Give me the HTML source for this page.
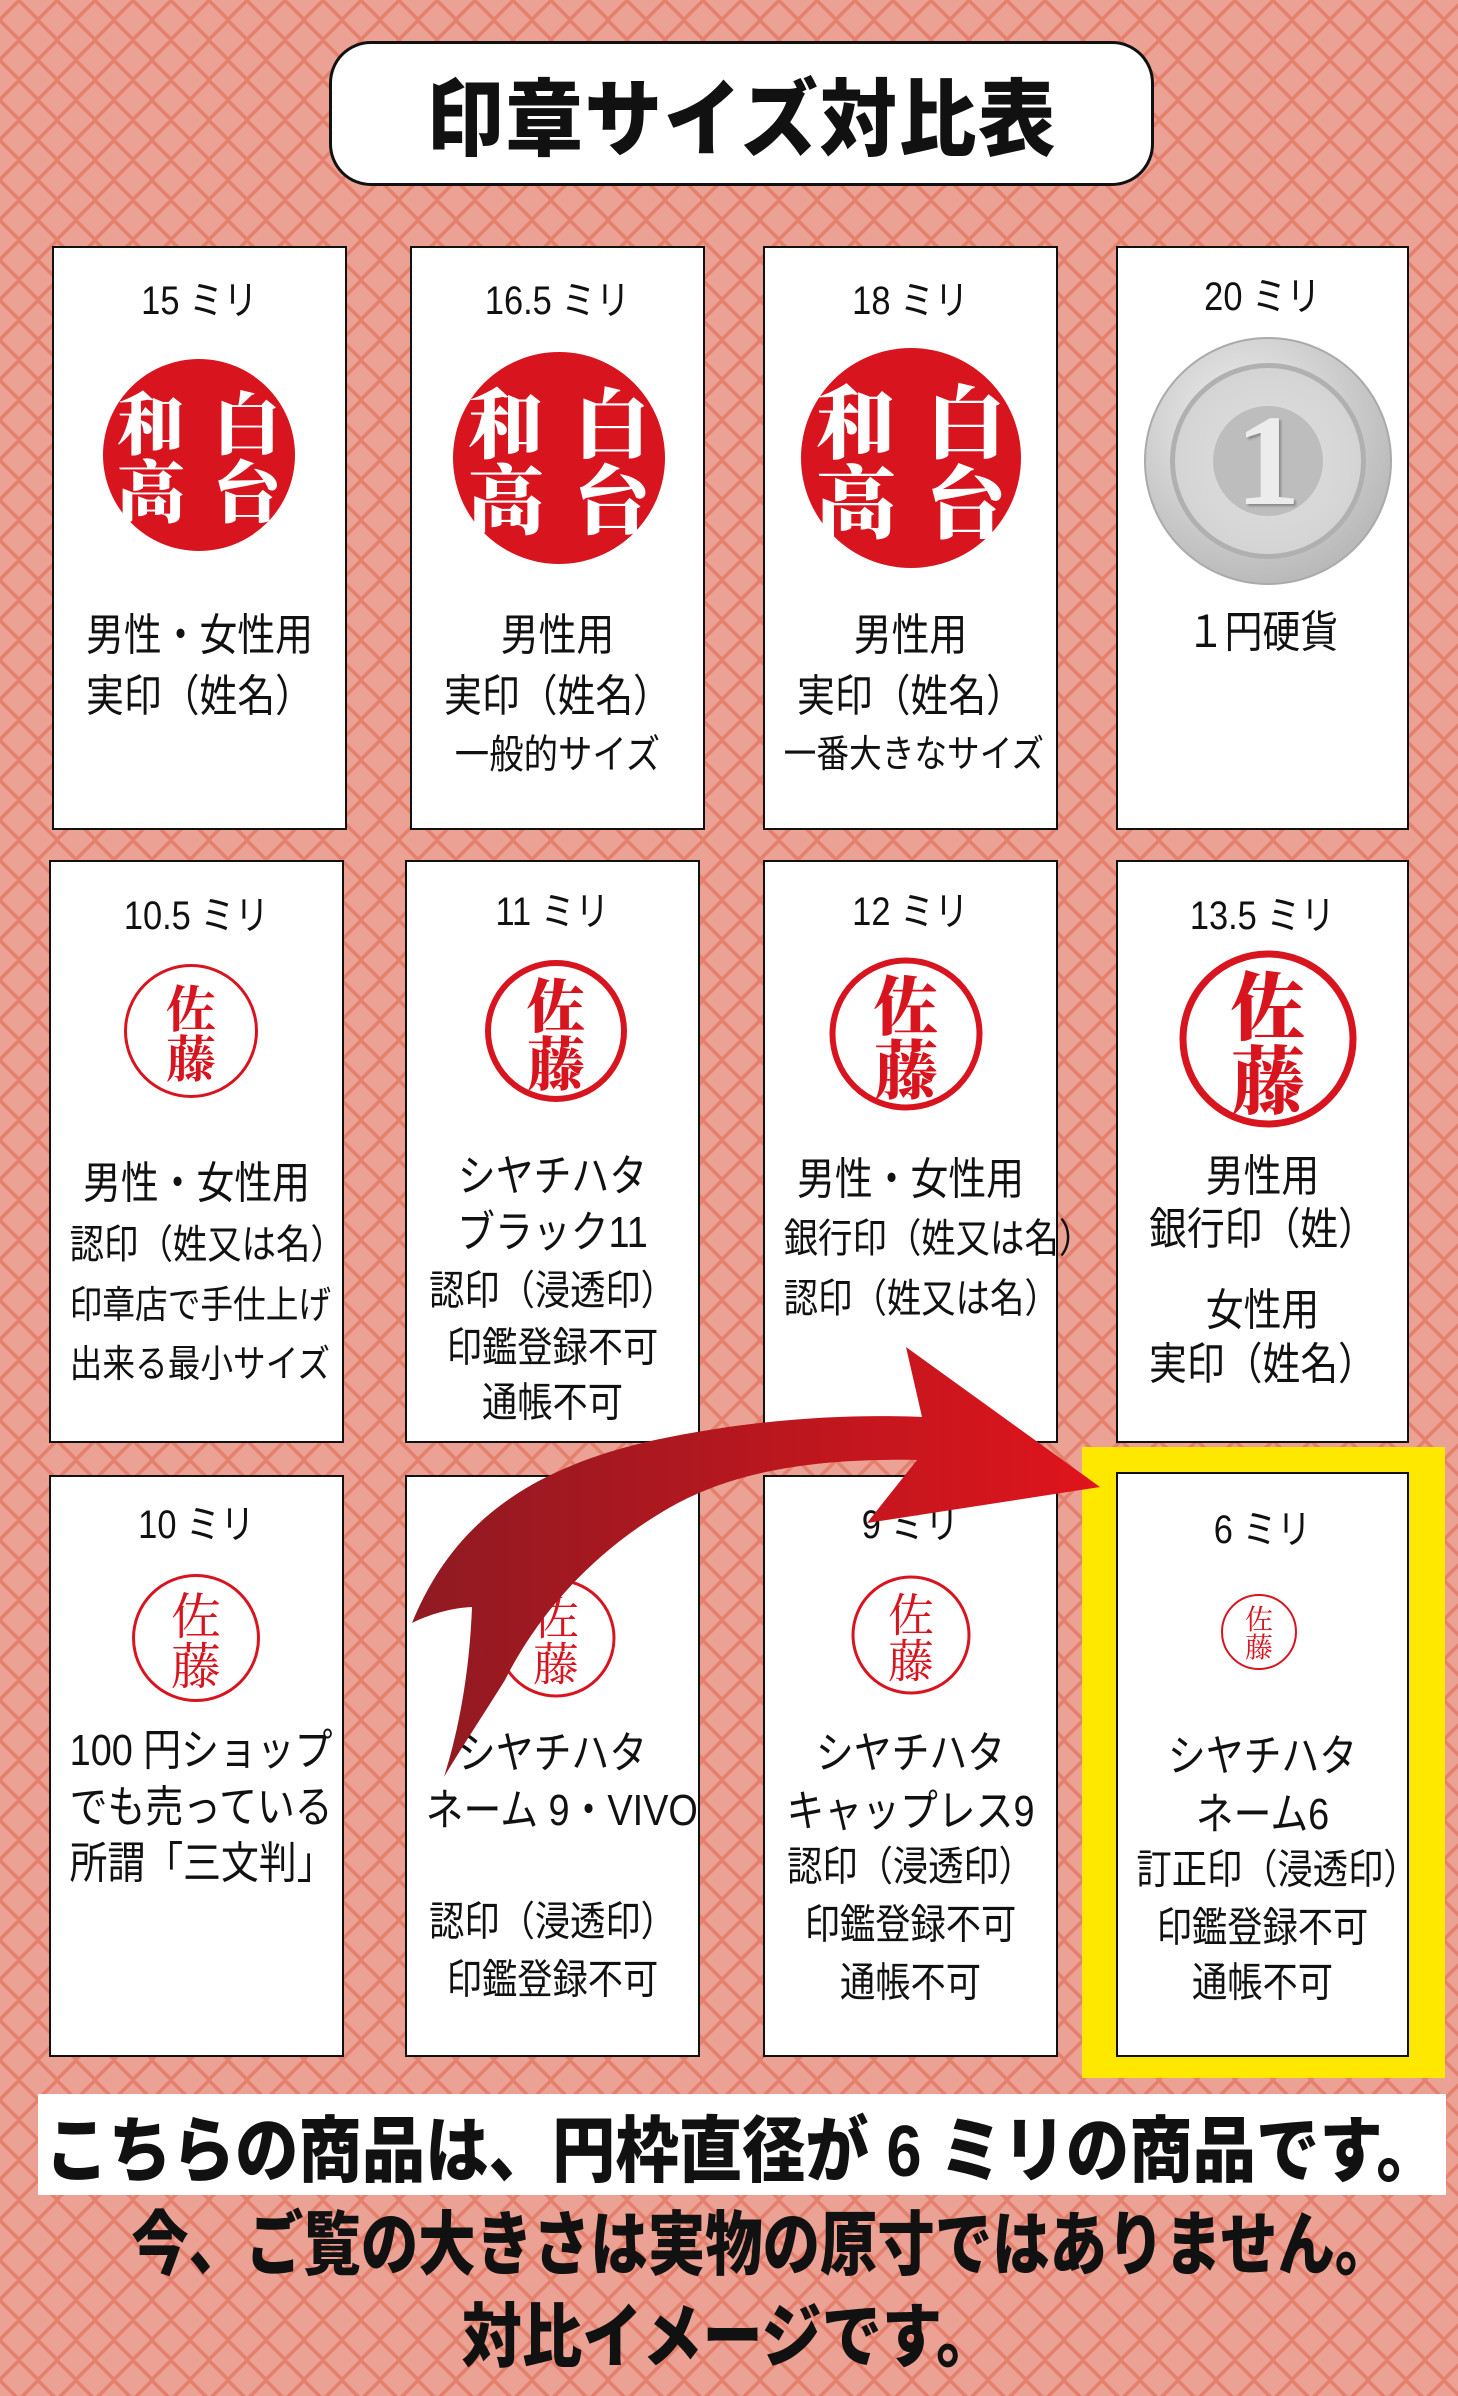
<!DOCTYPE html>
<html><head><meta charset="utf-8">
<style>
*{margin:0;padding:0;box-sizing:border-box}
body{width:1458px;height:2396px;position:relative;overflow:hidden;font-family:"Liberation Sans","Noto Sans CJK JP",sans-serif;color:#111}
.bg{position:absolute;left:0;top:0}
.card{position:absolute;background:#fff;border:2px solid #111}
.t{position:absolute;text-align:center;white-space:nowrap;line-height:1;transform:translateY(-50%) scaleX(.86);transform-origin:center;font-size:44px}
.lab{font-size:40px}
.st{position:absolute;border-radius:50%;transform:translate(-50%,-50%);display:flex;align-items:center;justify-content:center}
.red{background:#d8141f;color:#fff;font-family:"Noto Serif CJK SC",serif;font-weight:900;display:grid;grid-template-columns:1fr 1fr;line-height:1;text-align:center;align-content:center}
.sato{border:3px solid #d8141f;color:#d8141f;font-family:"Noto Serif CJK SC",serif;flex-direction:column;line-height:1}
.big{position:absolute;left:0;width:1458px;text-align:center;font-weight:900;line-height:1;white-space:nowrap}
</style></head><body>
<svg class="bg" width="1458" height="2396">
<defs><pattern id="p" width="38" height="40" patternUnits="userSpaceOnUse">
<rect width="38" height="40" fill="#e4806d"/>
<polygon points="19,3 36,20 19,37 2,20" fill="#eba294"/>
<polygon points="0,-17 17,0 0,17 -17,0" fill="#eba294"/>
<polygon points="38,-17 55,0 38,17 21,0" fill="#eba294"/>
<polygon points="0,23 17,40 0,57 -17,40" fill="#eba294"/>
<polygon points="38,23 55,40 38,57 21,40" fill="#eba294"/>
</pattern></defs>
<rect width="1458" height="2396" fill="url(#p)"/>
</svg>

<div style="position:absolute;left:329px;top:41px;width:825px;height:145px;background:#fff;border:3px solid #111;border-radius:42px;display:flex;align-items:center;justify-content:center;font-size:84px;font-weight:900;letter-spacing:2px"><span style="display:inline-block;transform:scaleX(.92)">印章サイズ対比表</span></div>

<div style="position:absolute;left:1082px;top:1447px;width:363px;height:631px;background:#ffe800"></div>

<div class="card" style="left:52px;top:246px;width:295px;height:584px"></div>
<div class="card" style="left:410px;top:246px;width:295px;height:584px"></div>
<div class="card" style="left:763px;top:246px;width:295px;height:584px"></div>
<div class="card" style="left:1116px;top:246px;width:293px;height:584px"></div>
<div class="card" style="left:49px;top:860px;width:295px;height:583px"></div>
<div class="card" style="left:405px;top:860px;width:295px;height:583px"></div>
<div class="card" style="left:763px;top:860px;width:295px;height:583px"></div>
<div class="card" style="left:1116px;top:860px;width:293px;height:583px"></div>
<div class="card" style="left:49px;top:1475px;width:295px;height:582px"></div>
<div class="card" style="left:405px;top:1475px;width:295px;height:582px"></div>
<div class="card" style="left:763px;top:1475px;width:295px;height:582px"></div>
<div class="card" style="left:1116px;top:1472px;width:293px;height:585px"></div>

<div class="t lab" style="left:52px;width:295px;top:301px">15 ミリ</div>
<div class="t lab" style="left:410px;width:295px;top:301px">16.5 ミリ</div>
<div class="t lab" style="left:763px;width:295px;top:301px">18 ミリ</div>
<div class="t lab" style="left:1116px;width:293px;top:297px">20 ミリ</div>

<div class="st red" style="left:199px;top:455px;width:192px;height:192px;font-size:68px"><span>和</span><span>白</span><span>高</span><span>台</span></div>
<div class="st red" style="left:559px;top:458px;width:212px;height:212px;font-size:76px"><span>和</span><span>白</span><span>高</span><span>台</span></div>
<div class="st red" style="left:911px;top:458px;width:220px;height:220px;font-size:80px"><span>和</span><span>白</span><span>高</span><span>台</span></div>
<div class="st" style="left:1268px;top:461px;width:248px;height:248px;background:radial-gradient(circle at 40% 35%,#f2f2f2,#c4c4c4 60%,#a9a9a9);border:2px solid #aaa">
 <div style="width:196px;height:196px;border-radius:50%;border:5px solid #b0b0b0;background:radial-gradient(circle,#e0e0e0,#cfcfcf);display:flex;align-items:center;justify-content:center">
  <div style="width:110px;height:110px;border-radius:50%;background:#bdbdbd;display:flex;align-items:center;justify-content:center;font-size:130px;font-weight:bold;color:#ececec;text-shadow:2px 2px 2px #888;font-family:'Liberation Serif',serif">1</div></div></div>

<div class="t" style="left:52px;width:295px;top:636px">男性・女性用</div>
<div class="t" style="left:52px;width:295px;top:697px">実印（姓名）</div>
<div class="t" style="left:410px;width:295px;top:636px">男性用</div>
<div class="t" style="left:410px;width:295px;top:697px">実印（姓名）</div>
<div class="t" style="left:410px;width:295px;top:755px;font-size:40px">一般的サイズ</div>
<div class="t" style="left:763px;width:295px;top:636px">男性用</div>
<div class="t" style="left:763px;width:295px;top:697px">実印（姓名）</div>
<div class="t" style="left:763px;width:295px;top:755px;font-size:38px">一番大きなサイズ</div>
<div class="t" style="left:1116px;width:293px;top:633px">１円硬貨</div>

<div class="t lab" style="left:49px;width:295px;top:916px">10.5 ミリ</div>
<div class="t lab" style="left:405px;width:295px;top:912px">11 ミリ</div>
<div class="t lab" style="left:763px;width:295px;top:912px">12 ミリ</div>
<div class="t lab" style="left:1116px;width:293px;top:916px">13.5 ミリ</div>

<div class="st sato" style="left:191px;top:1031px;width:134px;height:134px;font-size:50px;font-weight:700"><span>佐</span><span>藤</span></div>
<div class="st sato" style="left:556px;top:1031px;width:142px;height:142px;font-size:58px;font-weight:900;border-width:6px"><span>佐</span><span>藤</span></div>
<div class="st sato" style="left:906px;top:1034px;width:153px;height:153px;font-size:64px;font-weight:900;border-width:6px"><span>佐</span><span>藤</span></div>
<div class="st sato" style="left:1268px;top:1039px;width:177px;height:177px;font-size:74px;font-weight:900;border-width:7px"><span>佐</span><span>藤</span></div>

<div class="t" style="left:49px;width:295px;top:1184px">男性・女性用</div>
<div class="t" style="left:49px;width:295px;top:1245px;font-size:40px">認印（姓又は名）</div>
<div class="t" style="left:49px;width:295px;top:1306px;font-size:38px">印章店で手仕上げ</div>
<div class="t" style="left:49px;width:295px;top:1365px;font-size:38px">出来る最小サイズ</div>
<div class="t" style="left:405px;width:295px;top:1177px">シヤチハタ</div>
<div class="t" style="left:405px;width:295px;top:1233px">ブラック11</div>
<div class="t" style="left:405px;width:295px;top:1291px;font-size:41px">認印（浸透印）</div>
<div class="t" style="left:405px;width:295px;top:1348px;font-size:41px">印鑑登録不可</div>
<div class="t" style="left:405px;width:295px;top:1403px;font-size:41px">通帳不可</div>
<div class="t" style="left:763px;width:295px;top:1180px">男性・女性用</div>
<div class="t" style="left:763px;width:295px;top:1239px;font-size:40px">銀行印（姓又は名）</div>
<div class="t" style="left:763px;width:295px;top:1299px;font-size:40px">認印（姓又は名）</div>
<div class="t" style="left:1116px;width:293px;top:1177px">男性用</div>
<div class="t" style="left:1116px;width:293px;top:1230px">銀行印（姓）</div>
<div class="t" style="left:1116px;width:293px;top:1311px">女性用</div>
<div class="t" style="left:1116px;width:293px;top:1365px">実印（姓名）</div>

<div class="t lab" style="left:49px;width:295px;top:1525px">10 ミリ</div>
<div class="t lab" style="left:763px;width:295px;top:1525px">9 ミリ</div>
<div class="t lab" style="left:1116px;width:293px;top:1530px">6 ミリ</div>

<div class="st sato" style="left:196px;top:1638px;width:128px;height:128px;font-size:50px"><span>佐</span><span>藤</span></div>
<div class="st sato" style="left:556px;top:1638px;width:119px;height:119px;font-size:46px"><span>佐</span><span>藤</span></div>
<div class="st sato" style="left:911px;top:1635px;width:119px;height:119px;font-size:46px"><span>佐</span><span>藤</span></div>
<div class="st sato" style="left:1259px;top:1632px;width:76px;height:76px;font-size:28px;border-width:2px"><span>佐</span><span>藤</span></div>

<div class="t" style="left:49px;width:295px;top:1751px">100 円ショップ</div>
<div class="t" style="left:49px;width:295px;top:1808px">でも売っている</div>
<div class="t" style="left:49px;width:295px;top:1864px">所謂「三文判」</div>
<div class="t" style="left:405px;width:295px;top:1754px">シヤチハタ</div>
<div class="t" style="left:405px;width:295px;top:1811px">ネーム 9・VIVO</div>
<div class="t" style="left:405px;width:295px;top:1922px;font-size:41px">認印（浸透印）</div>
<div class="t" style="left:405px;width:295px;top:1980px;font-size:41px">印鑑登録不可</div>
<div class="t" style="left:763px;width:295px;top:1754px">シヤチハタ</div>
<div class="t" style="left:763px;width:295px;top:1812px">キャップレス9</div>
<div class="t" style="left:763px;width:295px;top:1867px;font-size:41px">認印（浸透印）</div>
<div class="t" style="left:763px;width:295px;top:1925px;font-size:41px">印鑑登録不可</div>
<div class="t" style="left:763px;width:295px;top:1983px;font-size:41px">通帳不可</div>
<div class="t" style="left:1116px;width:293px;top:1757px">シヤチハタ</div>
<div class="t" style="left:1116px;width:293px;top:1815px">ネーム6</div>
<div class="t" style="left:1116px;width:293px;top:1870px;font-size:41px">訂正印（浸透印）</div>
<div class="t" style="left:1116px;width:293px;top:1928px;font-size:41px">印鑑登録不可</div>
<div class="t" style="left:1116px;width:293px;top:1983px;font-size:41px">通帳不可</div>

<svg style="position:absolute;left:0;top:0" width="1458" height="2396">
<defs><linearGradient id="g" x1="400" y1="0" x2="1100" y2="0" gradientUnits="userSpaceOnUse">
<stop offset="0" stop-color="#8e1a22"/><stop offset="1" stop-color="#e0141c"/></linearGradient></defs>
<path d="M412,1623 C450,1530 520,1470 655,1440 C760,1418 850,1414 922,1417 L906,1347 L1100,1487 L867,1523 L917,1460 C820,1458 740,1470 678,1503 C600,1545 540,1610 505,1680 C480,1720 460,1750 444,1777 C462,1720 470,1660 472,1607 C450,1608 428,1615 412,1623 Z" fill="url(#g)"/>
</svg>

<div style="position:absolute;left:38px;top:2094px;width:1408px;height:101px;background:#fff;display:flex;align-items:center;justify-content:center;font-size:72px;font-weight:900;white-space:nowrap"><span style="display:inline-block;transform:scaleX(.88)">こちらの商品は、円枠直径が 6 ミリの商品です。</span></div>
<div class="big" style="top:2210px;font-size:70px;transform:scaleX(.82)">今、ご覧の大きさは実物の原寸ではありません。</div>
<div class="big" style="top:2302px;font-size:70px;transform:scaleX(.86)">対比イメージです。</div>
</body></html>
